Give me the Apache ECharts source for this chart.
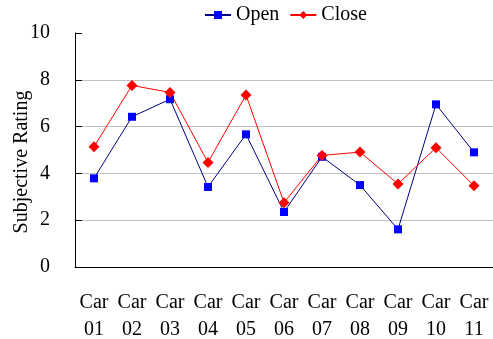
<!DOCTYPE html>
<html><head><meta charset="utf-8">
<script src="https://cdn.jsdelivr.net/npm/echarts@6/dist/echarts.min.js"></script>
<style>html,body{margin:0;padding:0;background:#fff}#c{width:493px;height:339px}</style>
</head><body><div id="c"></div>
<script>
const categories = ['Car\n01','Car\n02','Car\n03','Car\n04','Car\n05','Car\n06','Car\n07','Car\n08','Car\n09','Car\n10','Car\n11'];
const openValues = [3.79, 6.42, 7.17, 3.42, 5.67, 2.35, 4.71, 3.5, 1.61, 6.95, 4.9];
const closeValues = [5.14, 7.76, 7.46, 4.47, 7.35, 2.75, 4.77, 4.91, 3.55, 5.1, 3.47];
const yTicks = [0, 2, 4, 6, 8, 10];
const FONT = '"Liberation Serif","Times New Roman",serif';
const chart = echarts.init(document.getElementById('c'));
chart.setOption({
  animation: false,
  textStyle: {fontFamily: FONT},
  legend: {
    top: 0, left: 199,
    itemWidth: 26, itemHeight: 10, itemGap: 10,
    textStyle: {fontFamily: FONT, fontSize: 20, color: '#000'},
    data: ['Open', 'Close']
  },
  grid: {left: 75, right: 0, top: 33, bottom: 72, containLabel: false, outerBoundsMode: 'none'},
  xAxis: {
    type: 'category', data: categories, boundaryGap: true,
    axisLine: {lineStyle: {color: '#000', width: 1}},
    axisTick: {inside: true, length: 6, lineStyle: {color: '#000'}},
    axisLabel: {fontFamily: FONT, fontSize: 20, color: '#000', margin: 22, lineHeight: 27, interval: 0}
  },
  yAxis: {
    type: 'value', min: yTicks[0], max: yTicks[yTicks.length - 1], interval: 2,
    name: 'Subjective Rating', nameLocation: 'middle', nameGap: 43, nameMoveOverlap: false,
    nameTextStyle: {fontFamily: FONT, fontSize: 20, color: '#000', padding: [0, 24, 0, 0]},
    axisLine: {show: true, lineStyle: {color: '#000', width: 1}},
    axisTick: {show: true, inside: true, length: 7, lineStyle: {color: '#000'}},
    axisLabel: {fontFamily: FONT, fontSize: 20, color: '#000', margin: 25,
      formatter: v => yTicks.includes(v) ? String(v) : ''},
    splitLine: {show: true, lineStyle: {color: ['#c0c0c0','#c0c0c0','#c0c0c0','#c0c0c0','#c0c0c0','rgba(0,0,0,0)'], width: 1}}
  },
  series: [
    {name: 'Open', type: 'line', data: openValues, symbol: 'rect', symbolSize: 8,
      lineStyle: {color: '#000080', width: 1}, itemStyle: {color: '#0000ff'}},
    {name: 'Close', type: 'line', data: closeValues, symbol: 'diamond', symbolSize: 11,
      lineStyle: {color: '#ff0000', width: 1}, itemStyle: {color: '#ff0000'}}
  ]
});
</script></body></html>
